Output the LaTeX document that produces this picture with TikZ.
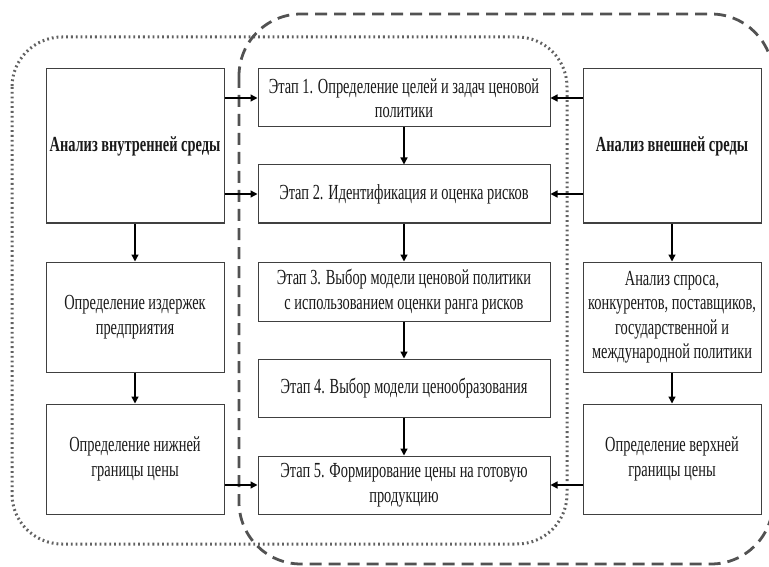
\documentclass[tikz,border=0pt]{standalone}
\usepackage{fontspec}
\setmainfont[FakeStretch=0.67]{Liberation Serif}
\usetikzlibrary{arrows.meta}
\begin{document}
\begin{tikzpicture}[x=1pt,y=-1pt,
  box/.style={draw=black!75,line width=1pt,fill=white,align=center,inner sep=2pt,
    font=\fontsize{21.5}{24.5}\selectfont,text=black!90},
  arr/.style={line width=1.3pt,-{Triangle[length=7pt,width=7pt]}}]
\useasboundingbox (0,0) rectangle (769,567);
\draw[line width=3pt,black!62,dash pattern=on 1.8pt off 3pt,rounded corners=50pt] (12,37) rectangle (567,544);
\draw[line width=2.8pt,black!68,dash pattern=on 12pt off 7pt,rounded corners=62pt] (239,14) rectangle (773,564);
% left column
\node[box,minimum width=178pt,minimum height=154pt] (L1) at (135,146) {\textbf{Анализ внутренней среды}};
\node[box,minimum width=178pt,minimum height=110pt] (L2) at (135,317) {Определение издержек\\предприятия};
\node[box,minimum width=178pt,minimum height=110pt] (L3) at (135,459) {Определение нижней\\границы цены};
% middle column
\node[box,minimum width=292pt,minimum height=58pt] (M1) at (404,98) {Этап 1. Определение целей и задач ценовой\\политики};
\node[box,minimum width=292pt,minimum height=58pt] (M2) at (404,194) {Этап 2. Идентификация и оценка рисков};
\node[box,minimum width=292pt,minimum height=59pt] (M3) at (404,291.5) {Этап 3. Выбор модели ценовой политики\\с использованием оценки ранга рисков};
\node[box,minimum width=292pt,minimum height=58pt] (M4) at (404,388) {Этап 4. Выбор модели ценообразования};
\node[box,minimum width=292pt,minimum height=58pt] (M5) at (404,485) {Этап 5. Формирование цены на готовую\\продукцию};
% right column
\node[box,minimum width=178pt,minimum height=154pt] (R1) at (672,146) {\textbf{Анализ внешней среды}};
\node[box,minimum width=178pt,minimum height=110pt] (R2) at (672,317) {Анализ спроса,\\конкурентов, поставщиков,\\государственной и\\международной политики};
\node[box,minimum width=178pt,minimum height=110pt] (R3) at (672,459) {Определение верхней\\границы цены};
% arrows
\draw[arr] (M1.west -| L1.east) -- (M1.west);
\draw[arr] (M2.west -| L1.east) -- (M2.west);
\draw[arr] (M5.west -| L3.east) -- (M5.west);
\draw[arr] (M1.east -| R1.west) -- (M1.east);
\draw[arr] (M2.east -| R1.west) -- (M2.east);
\draw[arr] (M5.east -| R3.west) -- (M5.east);
\draw[arr] (L1) -- (L2);
\draw[arr] (L2) -- (L3);
\draw[arr] (R1) -- (R2);
\draw[arr] (R2) -- (R3);
\draw[arr] (M1) -- (M2);
\draw[arr] (M2) -- (M3);
\draw[arr] (M3) -- (M4);
\draw[arr] (M4) -- (M5);
\end{tikzpicture}
\end{document}
